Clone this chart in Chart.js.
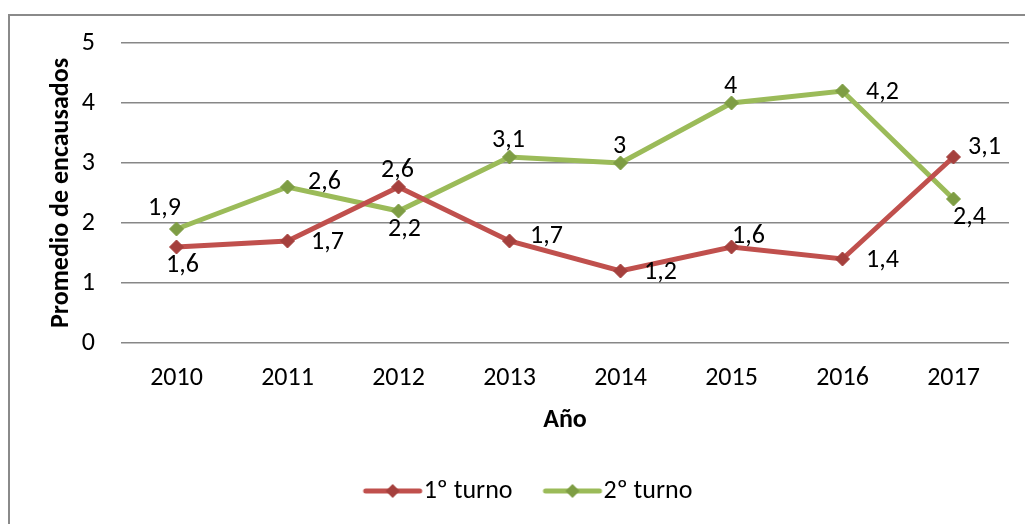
<!DOCTYPE html>
<html>
<head>
<meta charset="utf-8">
<script src="https://cdn.jsdelivr.net/npm/chart.js@4/dist/chart.umd.min.js"></script>
<style>
  html, body { margin: 0; padding: 0; background: #fff; }
  #wrap { width: 1025px; height: 524px; }
</style>
</head>
<body>
<div id="wrap"><canvas id="myChart"></canvas></div>
<script>
'use strict';

var years = ['2010', '2011', '2012', '2013', '2014', '2015', '2016', '2017'];
var turno1 = [1.6, 1.7, 2.6, 1.7, 1.2, 1.6, 1.4, 3.1];
var turno2 = [1.9, 2.6, 2.2, 3.1, 3.0, 4.0, 4.2, 2.4];
var seriesNames = ['1º turno', '2º turno'];
var yTicks = [0, 1, 2, 3, 4, 5];

// where each data label sits relative to its point
var labelPos1 = ['below', 'right', 'above', 'rightUp', 'right', 'aboveRight', 'right', 'rightHigh'];
var labelPos2 = ['aboveLeft', 'rightUp', 'below', 'above', 'above', 'above', 'right', 'belowRight'];

var FONT = 'Carlito, Lato, "Liberation Sans", sans-serif';
var FS = 26;
var red = '#C0504D', redDark = '#A5403D';
var green = '#9BBB59', greenDark = '#7E9D44';

// legend icon: line with a diamond, drawn on the right part of a wider canvas
function legendIcon(line, mark) {
  var c = document.createElement('canvas');
  c.width = 80; c.height = 16;
  var g = c.getContext('2d');
  g.strokeStyle = line;
  g.lineWidth = 5;
  g.lineCap = 'round';
  g.beginPath(); g.moveTo(20, 8); g.lineTo(74, 8); g.stroke();
  g.fillStyle = mark;
  g.beginPath();
  g.moveTo(47, 1); g.lineTo(54, 8); g.lineTo(47, 15); g.lineTo(40, 8);
  g.closePath(); g.fill();
  return c;
}
var icons = [legendIcon(red, redDark), legendIcon(green, greenDark)];

var offsets = {
  above: [-1, -17], below: [6, 18], right: [40, 1], rightUp: [37, -5],
  aboveRight: [17, -11], rightHigh: [31, -10], belowRight: [16, 18], aboveLeft: [-12, -21]
};

var borderPlugin = {
  id: 'outerBorder',
  afterLayout: function (chart) {
    // the legend in the original sits a little right of centre
    chart.legend.left += 22;
    chart.legend.right += 22;
  },
  beforeDraw: function (chart) {
    var ctx = chart.ctx;
    ctx.save();
    ctx.strokeStyle = '#8a8a8a';
    ctx.lineWidth = 2;
    ctx.strokeRect(9, 15, 1100, 600);
    ctx.restore();
  }
};

var labelPlugin = {
  id: 'pointLabels',
  afterDatasetsDraw: function (chart) {
    var ctx = chart.ctx;
    var positions = [labelPos1, labelPos2];
    ctx.save();
    ctx.font = FS + 'px ' + FONT;
    ctx.fillStyle = '#000';
    ctx.textAlign = 'center';
    ctx.textBaseline = 'middle';
    chart.data.datasets.forEach(function (ds, i) {
      var meta = chart.getDatasetMeta(i);
      meta.data.forEach(function (pt, j) {
        var off = offsets[positions[i][j]];
        var txt = String(ds.data[j]).replace('.', ',');
        ctx.fillText(txt, pt.x + off[0], pt.y + off[1]);
      });
    });
    ctx.restore();
  }
};

var ctx = document.getElementById('myChart');
var lineChart = new Chart(ctx, {
  type: 'line',
  data: {
    labels: years,
    datasets: [{
      label: seriesNames[0],
      data: turno1,
      borderColor: red,
      backgroundColor: redDark,
      borderWidth: 5,
      pointStyle: 'rectRot',
      pointRadius: 7,
      pointBackgroundColor: redDark,
      pointBorderColor: redDark,
      pointBorderWidth: 1,
      tension: 0
    }, {
      label: seriesNames[1],
      data: turno2,
      borderColor: green,
      backgroundColor: greenDark,
      borderWidth: 5,
      pointStyle: 'rectRot',
      pointRadius: 7,
      pointBackgroundColor: greenDark,
      pointBorderColor: greenDark,
      pointBorderWidth: 1,
      tension: 0
    }]
  },
  options: {
    responsive: true,
    maintainAspectRatio: false,
    animation: false,
    layout: { padding: { left: 0, right: 16, top: 43, bottom: 10 } },
    plugins: {
      tooltip: { enabled: false },
      legend: {
        position: 'bottom',
        labels: {
          usePointStyle: true,
          pointStyleWidth: 50,
          padding: 28,
          color: '#000',
          font: { family: FONT, size: FS },
          generateLabels: function (chart) {
            return chart.data.datasets.map(function (ds, i) {
              return { text: ds.label, pointStyle: icons[i], datasetIndex: i, lineWidth: 0, fontColor: '#000' };
            });
          }
        }
      }
    },
    scales: {
      x: {
        offset: true,
        grid: { display: false, drawTicks: false },
        border: { display: false },
        ticks: { color: '#000', padding: 20, font: { family: FONT, size: FS } },
        title: {
          display: true, text: 'Año', color: '#000',
          font: { family: FONT, size: FS, weight: 'bold' },
          padding: { top: 10, bottom: 14 }
        },
        afterFit: function (scale) {
          var ch = scale.chart;
          var lh = ch.legend ? ch.legend.height : 60;
          scale.height = ch.height - 10 - lh - 343;
        }
      },
      y: {
        min: 0, max: 5,
        afterBuildTicks: function (scale) {
          scale.ticks = yTicks.map(function (v) { return { value: v }; });
        },
        grid: { color: '#878787', lineWidth: 1.5, drawTicks: false },
        border: { display: false },
        ticks: { color: '#000', padding: 26, font: { family: FONT, size: FS } },
        title: {
          display: true, text: 'Promedio de encausados', color: '#000',
          font: { family: FONT, size: FS, weight: 'bold' },
          padding: { top: 46, bottom: 0 }
        },
        afterFit: function (scale) { scale.width = 121; }
      }
    }
  },
  plugins: [borderPlugin, labelPlugin]
});
</script>
</body>
</html>
